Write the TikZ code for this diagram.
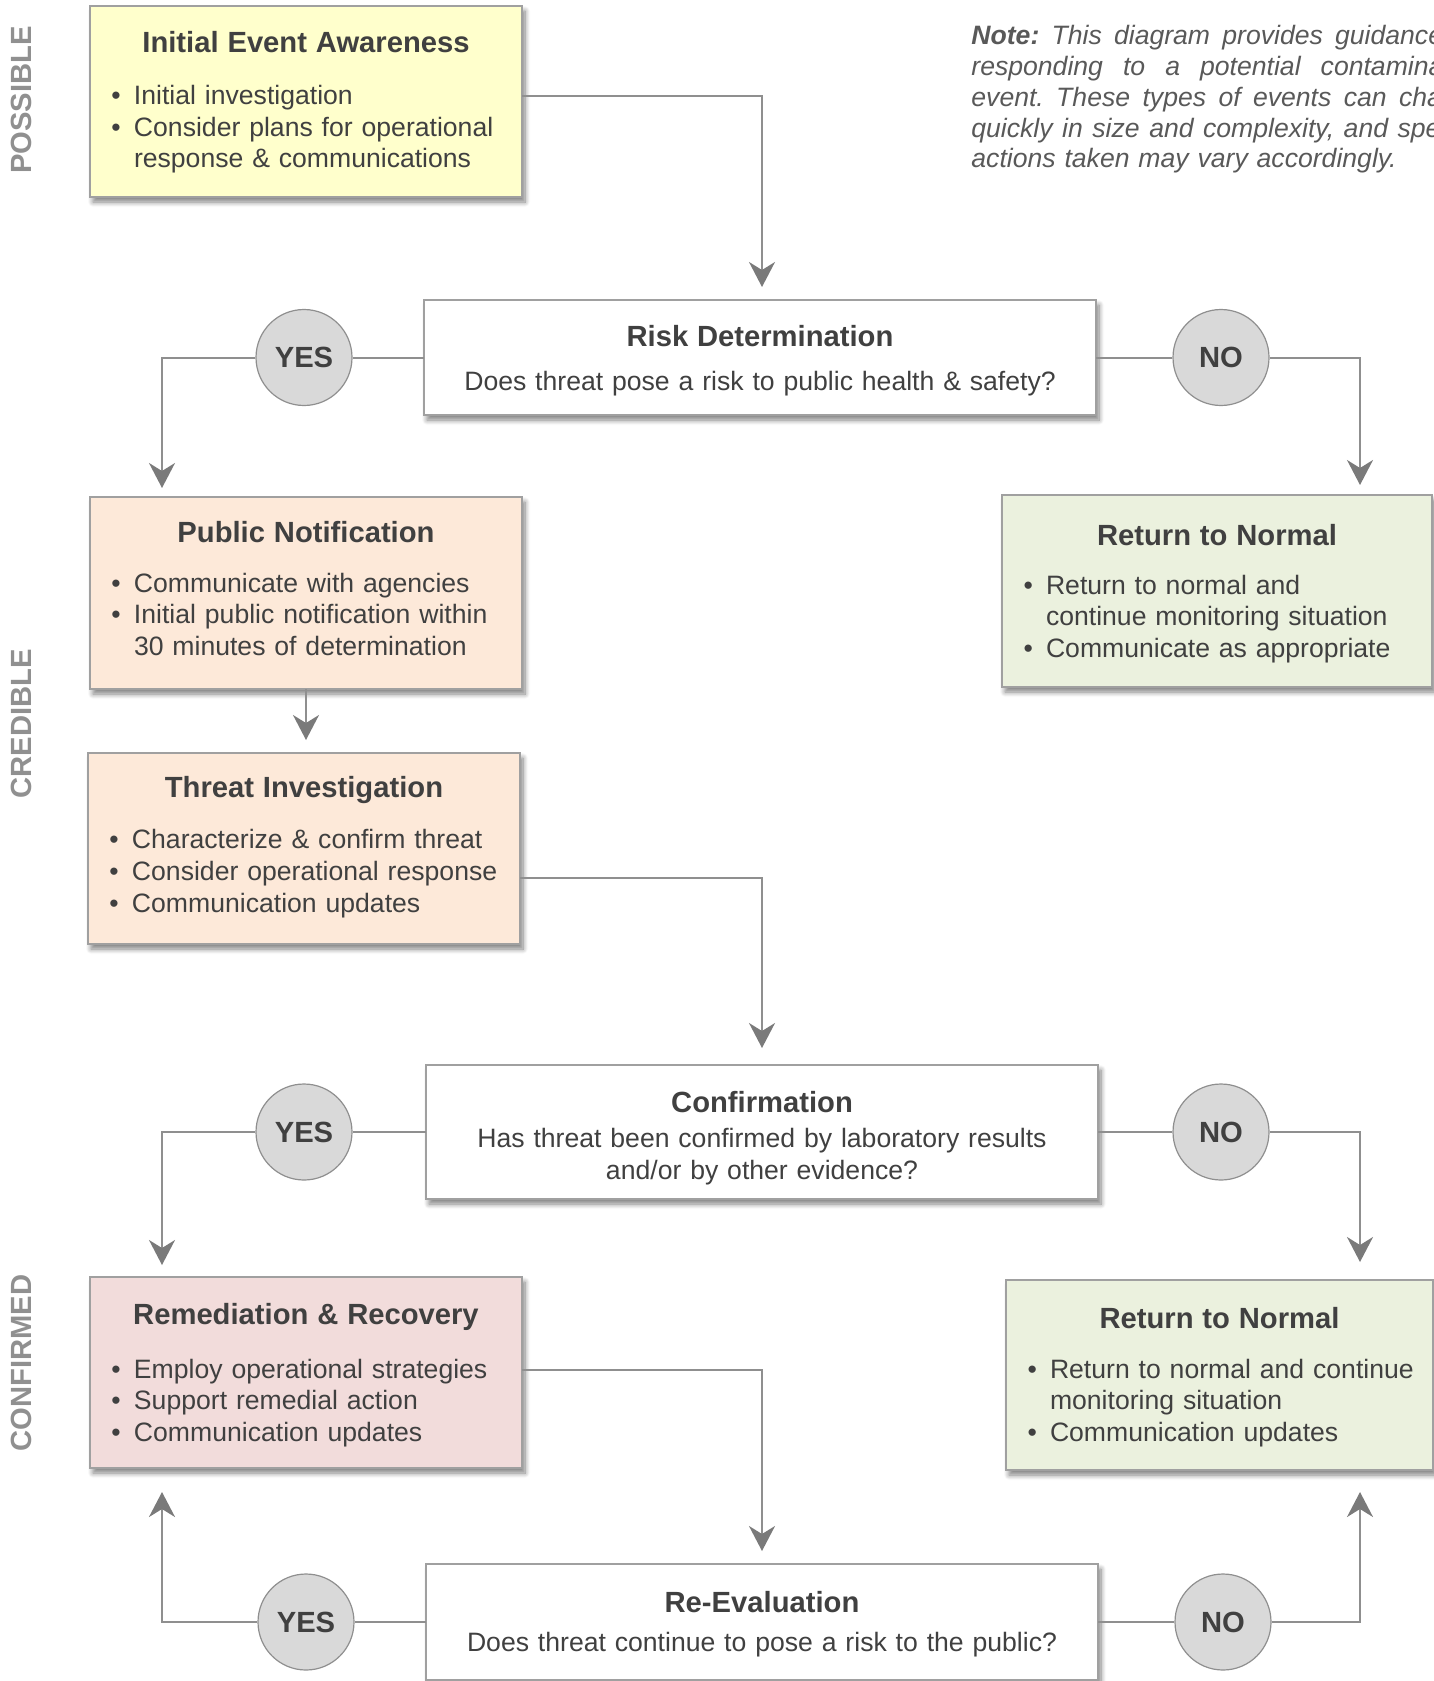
\documentclass[tikz,border=0pt]{standalone}
\usepackage{fontspec}
\setmainfont{Liberation Sans}
\usetikzlibrary{arrows.meta,shadows.blur}

\definecolor{inkgray}{HTML}{404040}
\definecolor{notegray}{HTML}{595959}
\definecolor{phasegray}{HTML}{909090}
\definecolor{linegray}{HTML}{8F8F8F}
\definecolor{tipgray}{HTML}{7A7A7A}
\definecolor{framegray}{HTML}{A0A0A0}
\definecolor{ballgray}{HTML}{D9D9D9}
\definecolor{awarefill}{HTML}{FFFFCC}
\definecolor{peachfill}{HTML}{FDE9D9}
\definecolor{greenfill}{HTML}{EBF1DE}
\definecolor{rosefill}{HTML}{F2DCDB}

% title line: [gap below][strut height]{text}
\NewDocumentCommand{\boxhead}{O{10pt}O{0pt}m}{{\centering\fontsize{14.6pt}{17pt}\selectfont\bfseries\rule{0pt}{#2}#3\par}\vskip#1\relax}
\newcommand{\bul}[1]{{\leftskip=22pt\relax\noindent\llap{\textbullet\hspace{6.6pt}}#1\par}}
\newcommand{\tailroom}[1]{\par\nointerlineskip\vbox to #1{}}
\newcommand{\noteline}[1]{\hbox to 257.5pt{\spaceskip=.278em plus 1fil\relax #1}\par}

\begin{document}
\begin{tikzpicture}[x=0.5pt, y=-0.5pt,
  phase box/.style={draw=framegray, line width=0.8pt, inner sep=0pt, outer sep=0pt, text width=#1, minimum width=#1, text=inkgray, font=\fontsize{13.3pt}{15.8pt}\selectfont, blur shadow={shadow xshift=1.5pt, shadow yshift=-2.5pt, shadow blur radius=2.5pt, shadow blur steps=8, shadow opacity=50}},
  ask box/.style={phase box=336pt, fill=white, align=center},
  answer node/.style={circle, draw=linegray, line width=0.6pt, fill=ballgray, minimum size=48pt, inner sep=0pt, text=inkgray, font=\fontsize{14.6pt}{17pt}\selectfont\bfseries},
  phase label/.style={rotate=90, text=phasegray, font=\fontsize{14.6pt}{17pt}\selectfont\bfseries},
  note text/.style={anchor=north west, inner sep=0pt, text width=257.5pt, text=notegray, font=\fontsize{13.3pt}{15.4pt}\selectfont\itshape\frenchspacing},
  link/.style={draw=linegray, line width=1pt},
  flow/.style={link, -{Stealth[length=12.5pt, width=13pt, inset=4pt, color=tipgray]}}]

  \useasboundingbox (0,0) rectangle (1434,1681);
  \clip (0,0) rectangle (1434,1681);

  % phases
  \node[phase label] (possible) at (21.5,100) {POSSIBLE};
  \node[phase label] (credible) at (21.5,724) {CREDIBLE};
  \node[phase label] (confirmed) at (21.5,1363) {CONFIRMED};

  \node[note text] (note) at (971,25) {\noteline{\textbf{Note:} This diagram provides guidance for}\noteline{responding to a potential contamination}\noteline{event. These types of events can change}\noteline{quickly in size and complexity, and specific}\hbox{actions taken may vary accordingly.}};

  % boxes
  \node[phase box=216pt, minimum height=95.5pt, fill=awarefill] (aware) at (306,101.5) {\boxhead[10.4pt][11.2pt]{Initial Event Awareness}\bul{Initial investigation}\bul{Consider plans for operational\\response \& communications}};
  \node[ask box, minimum height=57.5pt] (risk) at (760,357.5) {\boxhead[5.9pt][13.9pt]{Risk Determination}Does threat pose a risk to public health \& safety?};
  \node[phase box=216pt, minimum height=96pt, fill=peachfill] (notify) at (306,593) {\boxhead[8.9pt]{Public Notification}\bul{Communicate with agencies}\bul{Initial public notification within\\30 minutes of determination}\tailroom{4.3pt}};
  \node[phase box=215pt, minimum height=96pt, fill=greenfill] (normalA) at (1217,591) {\boxhead[8.4pt][13.3pt]{Return to Normal}\bul{Return to normal and\\continue monitoring situation}\bul{Communicate as appropriate}};
  \node[phase box=216pt, minimum height=95.5pt, fill=peachfill] (threat) at (304,848.5) {\boxhead[10pt]{Threat Investigation}\bul{Characterize \& confirm threat}\bul{Consider operational response}\bul{Communication updates}\tailroom{1.6pt}};
  \node[ask box, minimum height=67pt] (confirm) at (762,1132) {\boxhead[1.6pt][16.6pt]{Confirmation}Has threat been confirmed by laboratory results\\and/or by other evidence?};
  \node[phase box=216pt, minimum height=95.5pt, fill=rosefill] (remedy) at (306,1372.5) {\boxhead[11pt][13.3pt]{Remediation \& Recovery}\bul{Employ operational strategies}\bul{Support remedial action}\bul{Communication updates}};
  \node[phase box=213.5pt, minimum height=95pt, fill=greenfill] (normalB) at (1219.5,1375) {\boxhead[8.9pt][12.8pt]{Return to Normal}\bul{Return to normal and continue\\monitoring situation}\bul{Communication updates}};
  \node[ask box, minimum height=58pt] (reeval) at (762,1622) {\boxhead[3.9pt][12.8pt]{Re-Evaluation}Does threat continue to pose a risk to the public?};

  % answers
  \node[answer node] (yesA) at (304,357.5) {YES};
  \node[answer node] (noA) at (1221,357.5) {NO};
  \node[answer node] (yesB) at (304,1132) {YES};
  \node[answer node] (noB) at (1221,1132) {NO};
  \node[answer node] (yesC) at (306,1622) {YES};
  \node[answer node] (noC) at (1223,1622) {NO};

  \coordinate (yesAend) at (162,488);
  \coordinate (noAend) at (1360,485);
  \coordinate (yesBend) at (162,1265);
  \coordinate (noBend) at (1360,1262);
  \coordinate (yesCend) at (162,1492);
  \coordinate (noCend) at (1360,1492);

  % connectors
  \draw[flow, shorten >=6.5pt] ([yshift=3pt]aware.east) -| ([xshift=1pt]risk.north);
  \draw[link] (risk) -- (yesA);
  \draw[flow] (yesA) -| (yesAend);
  \draw[link] (risk) -- (noA);
  \draw[flow] (noA) -| (noAend);
  \draw[flow, shorten >=6.5pt] (notify) -- (notify |- threat.north);
  \draw[flow, shorten >=8.5pt] ([yshift=-14.5pt]threat.east) -| (confirm.north);
  \draw[link] (confirm) -- (yesB);
  \draw[flow] (yesB) -| (yesBend);
  \draw[link] (confirm) -- (noB);
  \draw[flow] (noB) -| (noBend);
  \draw[flow, shorten >=6.5pt] ([yshift=1.5pt]remedy.east) -| (reeval.north);
  \draw[link] (reeval) -- (yesC);
  \draw[flow] (yesC) -| (yesCend);
  \draw[link] (reeval) -- (noC);
  \draw[flow] (noC) -| (noCend);
\end{tikzpicture}
\end{document}
